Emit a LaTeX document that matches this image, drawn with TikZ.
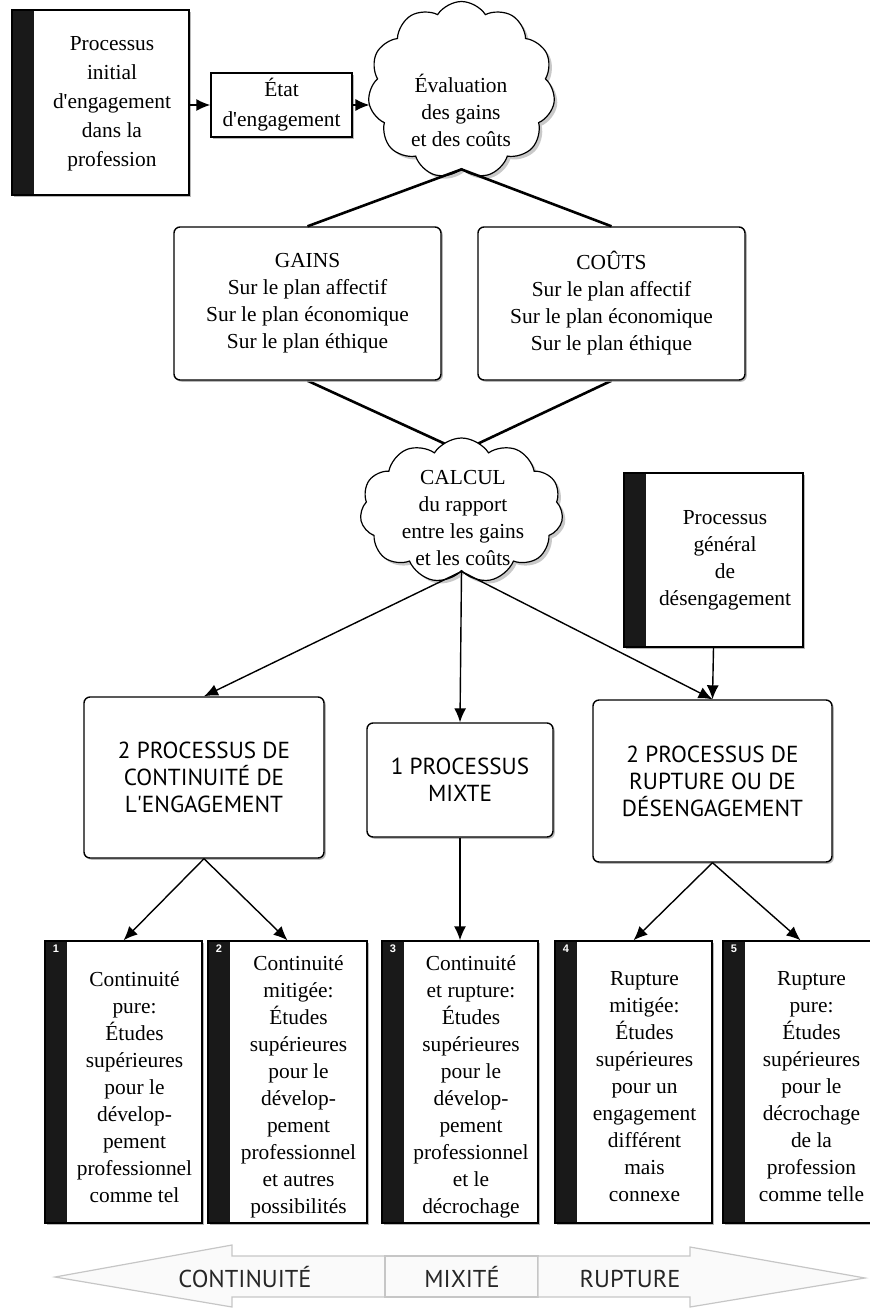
\documentclass[tikz,border=0pt]{standalone}
\usepackage{fontspec}
\setmainfont{Liberation Serif}
\newfontfamily\capsfont{PT Sans}
\newfontfamily\numfont{Liberation Sans}
\usetikzlibrary{shapes.symbols,arrows.meta,shadows,calc}
\pgfdeclarelayer{under}
\pgfsetlayers{under,main}

\begin{document}
\begin{tikzpicture}[x=0.5pt,y=-0.5pt,font=\fontsize{10.7}{13.5}\selectfont,
  box/.style={draw,fill=white,line width=0.7pt,inner sep=0pt,align=center,
    drop shadow={shadow xshift=0.9pt,shadow yshift=-0.9pt,fill=gray!70,opacity=0.8}},
  rbox/.style={box,rounded corners=3pt},
  barbox/.style={box,path picture={\fill[black!90] (path picture bounding box.south west) rectangle ([xshift=11pt]path picture bounding box.north west);}},
  lbl/.style={align=center,inner sep=0pt},
  caps/.style={font=\capsfont\fontsize{11.6}{13.5}\selectfont},
  bandtxt/.style={inner sep=0pt,anchor=base,text=black!85,font=\capsfont\fontsize{12.2}{13.5}\selectfont},
  num/.style={inner sep=0pt,text=white,font=\numfont\bfseries\fontsize{5.5}{6}\selectfont},
  blob/.style={cloud,cloud puffs=11,cloud puff arc=115,cloud ignores aspect,draw,fill=white,line width=0.6pt,inner sep=0pt,
    drop shadow={shadow xshift=1.5pt,shadow yshift=-1.5pt,fill=gray!60,opacity=0.7}},
  link/.style={line width=1.3pt},
  arr/.style={line width=0.7pt,-{Latex[length=7pt,width=6pt]}},
  band/.style={draw=gray!45,fill=gray!4,line width=0.6pt}]

\useasboundingbox (0,0) rectangle (870,1308);

\node[barbox,minimum width=88.5pt,minimum height=92.5pt] (initial) at (100.5,102.5) {};
\node[lbl,font=\fontsize{10.7}{14.5}\selectfont] (initialtxt) at (112,103.5) {Processus\\initial\\d\textquotesingle engagement\\dans la\\profession};

\node[box,minimum width=70.5pt,minimum height=32pt,font=\fontsize{10.7}{15}\selectfont] (etat) at (281.5,105) {État\\d\textquotesingle engagement};

\node[blob,minimum width=93.5pt,minimum height=88.5pt] (eval) at (461.5,90) {};
\node[lbl] (evaltxt) at (461,110) {Évaluation\\des gains\\et des coûts};

\node[rbox,minimum width=133.5pt,minimum height=76.5pt] (gains) at (307.5,303.5) {GAINS\\Sur le plan affectif\\Sur le plan économique\\Sur le plan éthique};
\node[rbox,minimum width=133.5pt,minimum height=76.5pt] (couts) at (611.5,303.5) {COÛTS\\Sur le plan affectif\\Sur le plan économique\\Sur le plan éthique};

\node[blob,minimum width=101.5pt,minimum height=72.5pt] (calcul) at (461.5,510.5) {};
\node[lbl] (calcultxt) at (463,518) {CALCUL\\du rapport\\entre les gains\\et les coûts};

\node[barbox,minimum width=89.5pt,minimum height=87pt] (desenga) at (713.5,560) {};
\node[lbl] (desengatxt) at (725,560) {Processus\\général\\de\\désengagement};

\node[rbox,caps,minimum width=120pt,minimum height=80.5pt] (cont) at (204,777.5) {2 PROCESSUS DE\\CONTINUITÉ DE\\L\textquotesingle ENGAGEMENT};
\node[rbox,caps,minimum width=93pt,minimum height=57pt] (mixte) at (460,780) {1 PROCESSUS\\MIXTE};
\node[rbox,caps,minimum width=119.5pt,minimum height=81pt] (rupt) at (712.5,781) {2 PROCESSUS DE\\RUPTURE OU DE\\DÉSENGAGEMENT};

\node[barbox,minimum width=78.5pt,minimum height=141pt] (r1) at (123.5,1082) {};
\node[barbox,minimum width=79.5pt,minimum height=141pt] (r2) at (287.5,1082) {};
\node[barbox,minimum width=78pt,minimum height=141pt] (r3) at (460,1082) {};
\node[barbox,minimum width=78.5pt,minimum height=141pt] (r4) at (633.5,1082) {};
\node[barbox,minimum width=77.5pt,minimum height=141pt] (r5) at (800.5,1082) {};

\node[num] (n1) at (56,949) {1};
\node[num] (n2) at (219,949) {2};
\node[num] (n3) at (393,949) {3};
\node[num] (n4) at (566,949) {4};
\node[num] (n5) at (734,949) {5};

\node[lbl] (t1) at (134.5,1087) {Continuité\\pure:\\Études\\supérieures\\pour le\\dévelop-\\pement\\professionnel\\comme tel};
\node[lbl] (t2) at (298.5,1087) {Continuité\\mitigée:\\Études\\supérieures\\pour le\\dévelop-\\pement\\professionnel\\et autres\\possibilités};
\node[lbl] (t3) at (471,1087) {Continuité\\et rupture:\\Études\\supérieures\\pour le\\dévelop-\\pement\\professionnel\\et le\\décrochage};
\node[lbl] (t4) at (644.5,1087) {Rupture\\mitigée:\\Études\\supérieures\\pour un\\engagement\\différent\\mais\\connexe};
\node[lbl] (t5) at (811.5,1087) {Rupture\\pure:\\Études\\supérieures\\pour le\\décrochage\\de la\\profession\\comme telle};

\draw[arr] (initial.east |- etat.west) -- (etat.west);
\draw[arr] (etat.east) -- (etat.east -| eval.west);
\draw[link] (eval.south) -- (gains.north);
\draw[link] (eval.south) -- (couts.north);
\begin{pgfonlayer}{under}
\draw[link] (gains.south) -- ([yshift=-7pt]calcul.north);
\draw[link] (couts.south) -- ([yshift=-7pt]calcul.north);
\end{pgfonlayer}
\draw[arr] (calcul.south) -- (cont.north);
\draw[arr] (calcul.south) -- (mixte.north);
\draw[arr] (calcul.south) -- (rupt.north);
\draw[arr] (desenga.south) -- (rupt.north);
\draw[arr] (cont.south) -- (r1.north);
\draw[arr] (cont.south) -- (r2.north);
\draw[arr] (mixte.south) -- (r3.north);
\draw[arr] (rupt.south) -- (r4.north);
\draw[arr] (rupt.south) -- (r5.north);

\draw[band] (55,1277) -- (232,1245) -- (232,1256) -- (385,1256) -- (385,1297) -- (232,1297) -- (232,1307) -- cycle;
\draw[band] (385,1256) rectangle (538,1297);
\draw[band] (538,1256) -- (690,1256) -- (690,1247) -- (865,1278) -- (690,1307) -- (690,1297) -- (538,1297) -- cycle;
\node[bandtxt] (contband) at (245,1287) {CONTINUITÉ};
\node[bandtxt] (mixband) at (462,1287) {MIXITÉ};
\node[bandtxt] (ruptband) at (630,1287) {RUPTURE};

\end{tikzpicture}
\end{document}
